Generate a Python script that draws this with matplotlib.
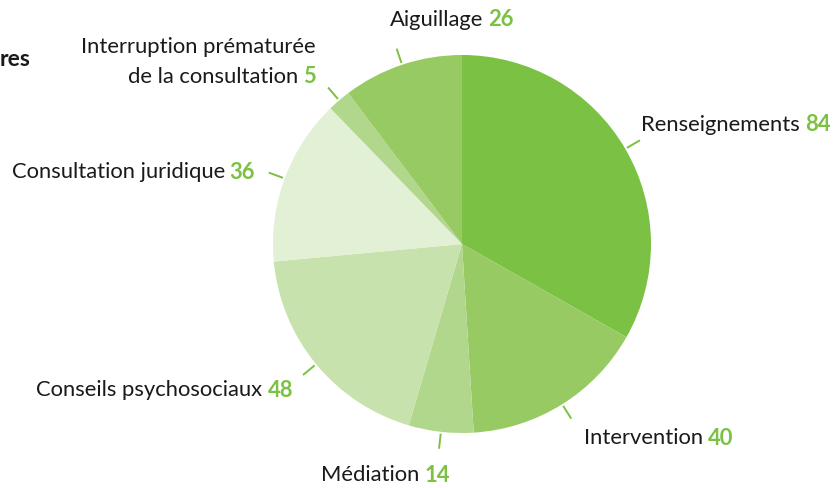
import numpy as np
import matplotlib
matplotlib.use("Agg")
import matplotlib.pyplot as plt

# Données
categories = ["Renseignements", "Intervention", "Médiation", "Conseils psychosociaux",
              "Consultation juridique", "Interruption prématurée\nde la consultation", "Aiguillage"]
values = [84, 40, 14, 48, 36, 5, 26]
colors = ["#7bc143", "#98ca64", "#b0d78b", "#c8e2ae", "#e2f0d6", "#b0d78b", "#98ca64"]

# mise en page des étiquettes : alignement et petit décalage (pixels)
label_ha = ["left", "left", "right", "right", "right", "right", "left"]
label_nudge = [(-17, 5), (2, -2), (13, -6), (6, -2), (6, -7), (1, -5), (0, 9)]

green = "#7bc143"
plt.rcParams["font.family"] = ["Lato", "DejaVu Sans"]

W, H = 833, 488
cx, cy, R = 462, 244, 189
fig = plt.figure(figsize=(W / 100, H / 100), dpi=100)
ax = fig.add_axes([0, 0, 1, 1])

wedges, _ = ax.pie(values, colors=colors, startangle=90, counterclock=False,
                   radius=1, center=(0, 0), frame=True,
                   wedgeprops=dict(linewidth=0))
ax.set_xlim(-cx / R, (W - cx) / R)
ax.set_ylim(-(H - cy) / R, cy / R)
ax.set_aspect("auto")
ax.axis("off")

fig.canvas.draw()
renderer = fig.canvas.get_renderer()
fs = 15.8
px = 1.0 / R  # un pixel en unités de données


def width_of(t):
    return t.get_window_extent(renderer).width


for w, name, val, ha, (nx, ny) in zip(wedges, categories, values, label_ha, label_nudge):
    ang = np.deg2rad((w.theta1 + w.theta2) / 2)
    c, s = np.cos(ang), np.sin(ang)
    ax.plot([1.01 * c, 1.09 * c], [1.01 * s, 1.09 * s], color=green, lw=1.4,
            solid_capstyle="butt")
    x = 1.2 * c + nx * px
    y = 1.2 * s + ny * px
    lines = name.split("\n")
    last = lines[-1]
    num = str(val)
    if ha == "left":
        t1 = ax.text(x, y, last, ha="left", va="center", fontsize=fs, color="#1a1a1a")
        w1 = width_of(t1) + 5
        ax.text(x + w1 * px, y, num, ha="left", va="center", fontsize=fs,
                color=green, fontweight="bold")
    else:
        t2 = ax.text(x, y, num, ha="right", va="center", fontsize=fs,
                     color=green, fontweight="bold")
        w2 = width_of(t2) + 5
        ax.text(x - w2 * px, y, last, ha="right", va="center", fontsize=fs, color="#1a1a1a")
    for i, ln in enumerate(reversed(lines[:-1])):
        ax.text(x, y + (i + 1) * 30 * px, ln, ha=ha, va="center", fontsize=fs,
                color="#1a1a1a")

# titre coupé à gauche
fig.text(0, 1 - 60 / H, "res", ha="left", va="center", fontsize=16.5,
         fontweight="bold", color="#1a1a1a")

fig.savefig("out.png", dpi=100)
